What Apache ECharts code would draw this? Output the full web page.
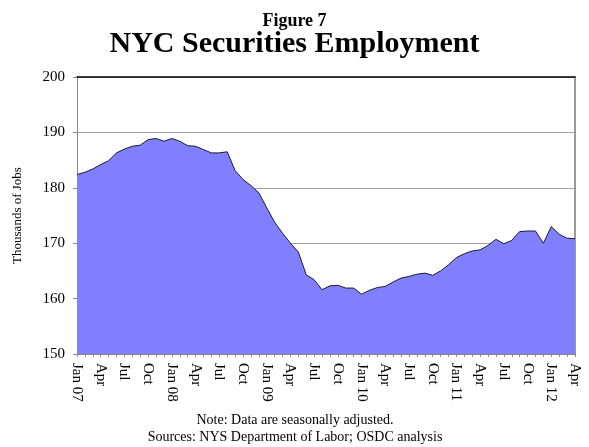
<!DOCTYPE html>
<html>
<head>
<meta charset="utf-8">
<script src="https://cdn.jsdelivr.net/npm/echarts@6/dist/echarts.min.js"></script>
<style>
  html, body { margin: 0; padding: 0; background: #fff; }
  #chart { width: 589px; height: 447px; }
</style>
</head>
<body>
<div id="chart"></div>
<script>
// monthly, Jan 07 .. Apr 12
const monthNames = ['Jan', 'Feb', 'Mar', 'Apr', 'May', 'Jun', 'Jul', 'Aug', 'Sep', 'Oct', 'Nov', 'Dec'];
const years = ['07', '08', '09', '10', '11', '12'];
const categories = [];
years.forEach(y => monthNames.forEach(m => categories.push(m + ' ' + y)));
categories.length = 64;

const jobs = [
  182.4, 182.8, 183.4, 184.2, 184.9, 186.3, 187.0, 187.5, 187.7, 188.7, 188.9, 188.4,
  188.9, 188.4, 187.6, 187.5, 186.9, 186.3, 186.3, 186.5, 183.1, 181.5, 180.4, 179.1,
  176.4, 173.8, 171.8, 170.0, 168.4, 164.3, 163.4, 161.6, 162.3, 162.4, 161.9, 161.9,
  160.8, 161.5, 162.0, 162.2, 163.0, 163.7, 164.0, 164.4, 164.6, 164.2, 165.0, 166.1,
  167.4, 168.1, 168.6, 168.8, 169.6, 170.7, 169.9, 170.5, 172.1, 172.2, 172.2, 170.0,
  173.0, 171.6, 170.9, 170.8
];

const yTicks = { min: 150, max: 200, step: 10 };

const chart = echarts.init(document.getElementById('chart'));
const font = '"Liberation Serif", "Times New Roman", serif';

chart.setOption({
  backgroundColor: '#fff',
  textStyle: { fontFamily: font },
  title: [
    {
      text: 'Figure 7',
      left: 'center', top: 7,
      textStyle: { fontFamily: font, fontSize: 18, fontWeight: 'bold', color: '#000' }
    },
    {
      text: 'NYC Securities Employment',
      left: 'center', top: 24,
      textStyle: { fontFamily: font, fontSize: 30, fontWeight: 'bold', color: '#000' }
    }
  ],
  graphic: [
    {
      type: 'text', x: 295, y: 420,
      style: { text: 'Note: Data are seasonally adjusted.', font: '14px ' + font, fill: '#000', align: 'center', verticalAlign: 'middle' }
    },
    {
      type: 'text', x: 295, y: 437,
      style: { text: 'Sources: NYS Department of Labor; OSDC analysis', font: '14px ' + font, fill: '#000', align: 'center', verticalAlign: 'middle' }
    }
  ],
  grid: { left: 77, right: 14, top: 77, bottom: 93 },
  xAxis: [
    {
      type: 'category',
      data: categories,
      boundaryGap: false,
      axisLine: { lineStyle: { color: '#888', width: 1 } },
      axisTick: { show: true, interval: 0, length: 3, lineStyle: { color: '#888' } },
      axisLabel: {
        interval: 2,
        rotate: -90,
        margin: 9,
        fontFamily: font,
        fontSize: 15,
        color: '#000',
        formatter: v => v.startsWith('Jan') ? v : v.slice(0, 3)
      },
      splitLine: { show: false }
    },
    {
      type: 'category',
      data: categories,
      position: 'top',
      boundaryGap: false,
      axisLine: { lineStyle: { color: '#000', width: 1.5 } },
      axisTick: { show: false },
      axisLabel: { show: false }
    }
  ],
  yAxis: [
    {
      type: 'value',
      min: yTicks.min, max: yTicks.max, interval: yTicks.step,
      name: 'Thousands of Jobs',
      nameLocation: 'middle',
      nameGap: 53,
      nameTextStyle: { fontFamily: font, fontSize: 13, color: '#000' },
      axisLine: { show: true, lineStyle: { color: '#888', width: 1 } },
      axisTick: { show: true, length: 4, lineStyle: { color: '#888' } },
      axisLabel: { fontFamily: font, fontSize: 15, color: '#000', margin: 12 },
      splitLine: { show: true, lineStyle: { color: '#a0a0a0', width: 1 } }
    },
    {
      type: 'value',
      position: 'right',
      min: yTicks.min, max: yTicks.max, interval: yTicks.step,
      axisLine: { show: true, lineStyle: { color: '#999', width: 2 } },
      axisTick: { show: false },
      axisLabel: { show: false },
      splitLine: { show: false }
    }
  ],
  series: [
    {
      name: 'NYC Securities Employment',
      type: 'line',
      data: jobs,
      symbol: 'none',
      z: 1,
      lineStyle: { color: '#1a1a2a', width: 1 },
      areaStyle: { color: '#8080ff', opacity: 1, origin: 'start' }
    }
  ]
});
</script>
</body>
</html>
